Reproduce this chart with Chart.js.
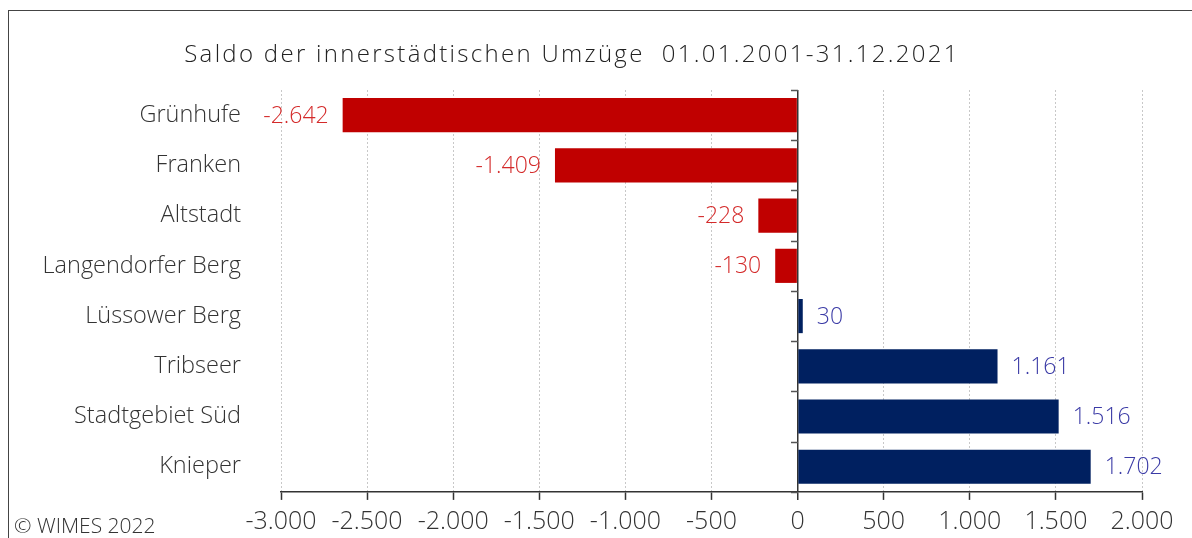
<!DOCTYPE html>
<html>
<head>
<meta charset="utf-8">
<script src="https://cdn.jsdelivr.net/npm/chart.js@4"></script>
<style>
  html, body { margin: 0; padding: 0; background: #fff; }
  #wrap { position: relative; width: 1192px; height: 538px; overflow: hidden; }
  #frame { position: absolute; left: 8px; top: 10px; width: 1300px; height: 600px;
           border-left: 1px solid #444; border-top: 1px solid #444; }
  #copy { position: absolute; left: 14px; top: 511px; font: 300 21px "Open Sans", sans-serif; color: #333; }
  canvas { position: absolute; left: 0; top: 0; }
</style>
</head>
<body>
<div id="wrap">
  <div id="frame"></div>
  <canvas id="chart" width="1192" height="538"></canvas>
  <div id="copy">© WIMES 2022</div>
</div>
<script>
// Daten
const districts = ["Grünhufe", "Franken", "Altstadt", "Langendorfer Berg", "Lüssower Berg", "Tribseer", "Stadtgebiet Süd", "Knieper"];
const saldo     = [-2642, -1409, -228, -130, 30, 1161, 1516, 1702];
const xTicks    = [-3000, -2500, -2000, -1500, -1000, -500, 0, 500, 1000, 1500, 2000];
const titleText = "Saldo der innerstädtischen Umzüge  01.01.2001-31.12.2021";

const fmt = v => v.toLocaleString("de-DE");
const FONT = "'Open Sans', sans-serif";

// Titel mit Sperrung (letterSpacing)
const spacedTitle = {
  id: "spacedTitle",
  afterDraw(chart) {
    const ctx = chart.ctx;
    ctx.save();
    ctx.font = "300 24px " + FONT;
    ctx.letterSpacing = "2.3px";
    ctx.fillStyle = "#222";
    ctx.textAlign = "center";
    ctx.textBaseline = "middle";
    ctx.fillText(titleText, 572, 55);
    ctx.restore();
  }
};

// Werte neben die Balken schreiben
const valueLabels = {
  id: "valueLabels",
  afterDatasetsDraw(chart) {
    const ctx  = chart.ctx;
    const meta = chart.getDatasetMeta(0);
    ctx.save();
    ctx.font = "300 23px " + FONT;
    ctx.textBaseline = "middle";
    meta.data.forEach((bar, i) => {
      const v = saldo[i];
      if (v < 0) {
        ctx.fillStyle = "#d42a2a";
        ctx.textAlign = "right";
        ctx.fillText(fmt(v), bar.x - 14, bar.y + 1);
      } else {
        ctx.fillStyle = "#3b3ba6";
        ctx.textAlign = "left";
        ctx.fillText(fmt(v), bar.x + 14, bar.y + 1);
      }
    });
    ctx.restore();
  }
};

// kleine Striche an der Nulllinie zwischen den Kategorien
const zeroTicks = {
  id: "zeroTicks",
  afterDraw(chart) {
    const ctx = chart.ctx;
    const x0  = Math.round(chart.scales.x.getPixelForValue(0));
    const ys  = chart.scales.y;
    ctx.save();
    ctx.strokeStyle = "#555";
    ctx.lineWidth = 1.5;
    for (let i = 0; i <= districts.length; i++) {
      const y = Math.round(ys.getPixelForValue(i - 0.5)) + 0.5;
      ctx.beginPath();
      ctx.moveTo(x0 - 7, y);
      ctx.lineTo(x0, y);
      ctx.stroke();
    }
    ctx.restore();
  }
};

new Chart(document.getElementById("chart").getContext("2d"), {
  type: "bar",
  data: {
    labels: districts,
    datasets: [{
      data: saldo,
      backgroundColor: saldo.map(v => v < 0 ? "#c00000" : "#002060"),
      barPercentage: 0.68,
      categoryPercentage: 1
    }]
  },
  options: {
    indexAxis: "y",
    responsive: false,
    animation: false,
    layout: { padding: { left: 0, right: 50, top: 90, bottom: 0 } },
    plugins: {
      legend: { display: false },
      tooltip: { enabled: false },
      title: { display: false }
    },
    scales: {
      x: {
        min: -3000,
        max: 2000,
        afterBuildTicks: s => { s.ticks = xTicks.map(v => ({ value: v })); },
        afterFit: s => { s.height = 39; },
        grid: {
          color: c => c.tick && c.tick.value === 0 ? "#333" : "#c8c8c8",
          lineWidth: c => c.tick && c.tick.value === 0 ? 1.5 : 1,
          tickColor: "#333",
          tickLength: 8,
          tickWidth: 1.5
        },
        border: {
          color: "#333",
          width: 1.5,
          dash: c => c.tick && c.tick.value === 0 ? [] : [2, 2]
        },
        ticks: {
          color: "#333",
          padding: 7,
          font: { family: FONT, size: 25, weight: "300" },
          callback: v => fmt(v)
        }
      },
      y: {
        afterFit: s => { s.width = 281; },
        grid: { display: false },
        border: { display: false },
        ticks: {
          color: "#333",
          padding: 32,
          font: { family: FONT, size: 23.5, weight: "300" }
        }
      }
    }
  },
  plugins: [valueLabels, zeroTicks, spacedTitle]
});
</script>
</body>
</html>
